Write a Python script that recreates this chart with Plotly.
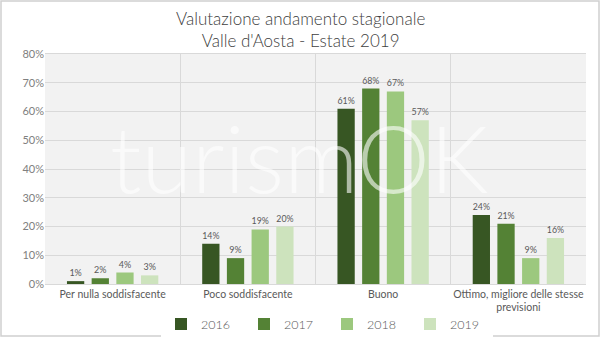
import plotly.graph_objects as go

categories = ["Per nulla soddisfacente", "Poco soddisfacente", "Buono",
              "Ottimo, migliore delle stesse<br>previsioni"]
years = ["2016", "2017", "2018", "2019"]
values = {
    "2016": [1, 14, 61, 24],
    "2017": [2, 9, 68, 21],
    "2018": [4, 19, 67, 9],
    "2019": [3, 20, 57, 16],
}
colors = {"2016": "#375623", "2017": "#548235", "2018": "#9cc87e", "2019": "#cde3bd"}
tick_vals = [0, 10, 20, 30, 40, 50, 60, 70, 80]
tick_text = [f"{v}%" for v in tick_vals]
title_lines = ["Valutazione andamento stagionale", "Valle d'Aosta - Estate 2019"]

font_family = "Lato, 'Open Sans', sans-serif"
fig = go.Figure()
for y in years:
    fig.add_trace(go.Bar(
        x=categories, y=values[y], name=y,
        marker=dict(color=colors[y], line=dict(width=0)),
        text=[f"{v}%" for v in values[y]], textposition="outside",
        textfont=dict(size=9, color="#595959", family=font_family),
        cliponaxis=False,
    ))

W, H = 600, 337
ml, mr, mt, mb = 45, 14, 54, 53
pw, ph = W - ml - mr, H - mt - mb

fig.update_layout(
    width=W, height=H,
    margin=dict(l=ml, r=mr, t=mt, b=mb, autoexpand=False),
    paper_bgcolor="white", plot_bgcolor="#f2f2f2",
    barmode="group", bargap=0.27, bargroupgap=0.3,
    font=dict(family=font_family, color="#595959", size=11),
    legend=dict(orientation="h", x=(327 - ml) / pw, xanchor="center", y=-0.11, yanchor="top",
                font=dict(size=12.5, color="#595959", weight=300), itemwidth=30,
                traceorder="normal", entrywidth=38),
    showlegend=True,
    xaxis=dict(showgrid=True, gridcolor="#d9d9d9", tickson="boundaries",
               ticks="", showline=True, linecolor="#d9d9d9", mirror=True,
               tickangle=0, automargin=False,
               tickfont=dict(size=10.5, color="#595959")),
    yaxis=dict(range=[0, 80], tickvals=tick_vals, ticktext=tick_text,
               showgrid=True, gridcolor="#d9d9d9", zeroline=False, automargin=False,
               showline=False, tickfont=dict(size=11, color="#808080"), ticks=""),
    shapes=[dict(type="rect", xref="paper", yref="paper",
                 x0=-(ml - 1) / pw, x1=1 + (mr - 1) / pw,
                 y0=-(mb - 1) / ph, y1=1 + (mt - 1) / ph,
                 line=dict(color="#d0d0d0", width=1.5))],
    annotations=[
        dict(text="turismOK", xref="paper", yref="paper",
             x=0.47, y=0.55, showarrow=False,
             font=dict(size=92, color="rgba(255,255,255,0.6)",
                       family=font_family, weight=300)),
        dict(text="<br>".join(title_lines), xref="paper", yref="paper",
             x=(W / 2 - ml) / pw, y=1 + (mt - 6) / ph, xanchor="center", yanchor="top",
             showarrow=False, align="center",
             font=dict(size=17, color="#404040", family=font_family, weight=300)),
    ],
)
fig.write_html("out.html")
